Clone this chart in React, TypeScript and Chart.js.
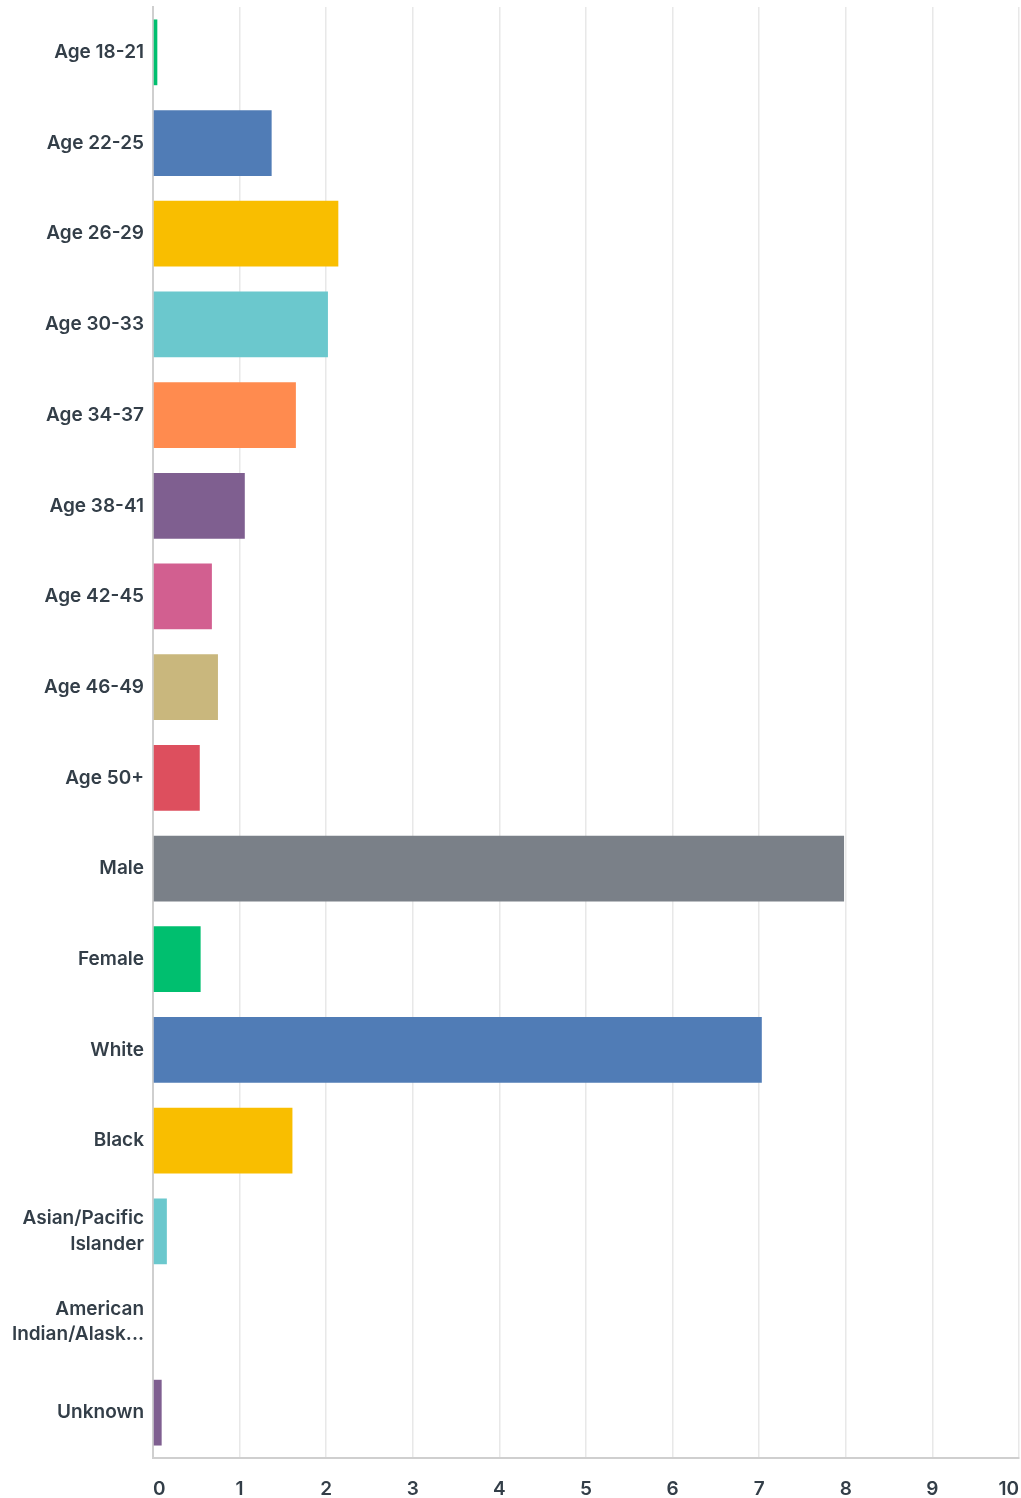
import React, { useEffect, useRef } from "react";
import { Chart, registerables } from "chart.js";

Chart.register(...registerables);

const categories: (string | string[])[] = [
  "Age 18-21",
  "Age 22-25",
  "Age 26-29",
  "Age 30-33",
  "Age 34-37",
  "Age 38-41",
  "Age 42-45",
  "Age 46-49",
  "Age 50+",
  "Male",
  "Female",
  "White",
  "Black",
  ["Asian/Pacific", "Islander"],
  ["American", "Indian/Alask..."],
  "Unknown",
];

const values: number[] = [
  0.05, 1.37, 2.14, 2.02, 1.65, 1.06, 0.68, 0.75, 0.54, 7.98, 0.55, 7.03, 1.61, 0.16, 0, 0.1,
];

const palette: string[] = [
  "#00bf6f",
  "#507cb6",
  "#f9be00",
  "#6bc8cd",
  "#ff8b4f",
  "#7f5f90",
  "#d25f90",
  "#c9b77d",
  "#dd4f5e",
  "#7a8088",
];

const xTicks: number[] = [0, 1, 2, 3, 4, 5, 6, 7, 8, 9, 10];

export default function App() {
  const ref = useRef<HTMLCanvasElement | null>(null);

  useEffect(() => {
    document.body.style.margin = "0";
    if (!ref.current) return;
    const textColor = "#333e48";
    const font = { family: "Inter, sans-serif", size: 19, weight: 600 as const, lineHeight: 1.32 };
    const chart = new Chart(ref.current, {
      type: "bar",
      data: {
        labels: categories,
        datasets: [
          {
            data: values,
            backgroundColor: values.map((_, i) => palette[i % palette.length]),
            borderWidth: 0,
            barPercentage: 0.725,
            categoryPercentage: 1,
          },
        ],
      },
      options: {
        indexAxis: "y",
        animation: false,
        responsive: false,
        maintainAspectRatio: false,
        layout: { padding: { top: 7, right: 2, left: 0, bottom: 0 } },
        plugins: {
          legend: { display: false },
          tooltip: { enabled: false },
        },
        scales: {
          x: {
            min: 0,
            max: 10,
            afterBuildTicks: (scale: any) => {
              scale.ticks = xTicks.map((v) => ({ value: v }));
            },
            afterFit: (scale: any) => {
              scale.height = 40;
              scale.paddingLeft = 0;
              scale.paddingRight = 0;
            },
            grid: {
              color: "#e8e8e8",
              lineWidth: 1.5,
              drawTicks: false,
            },
            border: { color: "#cfcfcf", width: 2 },
            ticks: {
              color: textColor,
              font,
              padding: 19,
              align: "inner",
              maxRotation: 0,
            },
          },
          y: {
            afterFit: (scale: any) => {
              scale.width = 153;
              scale.paddingTop = 0;
              scale.paddingBottom = 0;
            },
            grid: { display: false, drawTicks: false },
            border: { color: "#cfcfcf", width: 2 },
            ticks: {
              color: textColor,
              font,
              padding: 9,
            },
          },
        },
      },
    });
    return () => chart.destroy();
  }, []);

  return (
    <div style={{ width: 1021, height: 1498 }}>
      <canvas ref={ref} width={1021} height={1498} style={{ display: "block", width: 1021, height: 1498 }} />
    </div>
  );
}
